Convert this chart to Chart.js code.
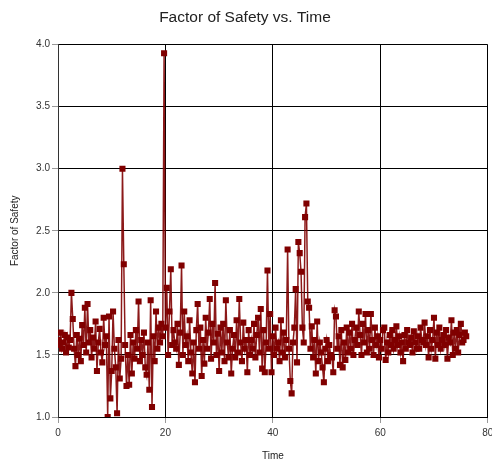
<!DOCTYPE html>
<html>
<head>
<meta charset="utf-8">
<script src="https://cdn.jsdelivr.net/npm/chart.js@4/dist/chart.umd.min.js"></script>
<style>
  html, body { margin: 0; padding: 0; background: #fff; }
  #wrap { width: 492px; height: 459px; }
</style>
</head>
<body>
<div id="wrap"><canvas id="fosChart"></canvas></div>
<script>
// samples every 0.25 time units, starting at t = 0
const startTime = 0;
const timeStep = 0.25;
const factorOfSafety = [
  1.62, 1.58, 1.68, 1.55, 1.60, 1.66, 1.52, 1.64,
  1.56, 1.62, 2.00, 1.79, 1.55, 1.41, 1.66, 1.50,
  1.63, 1.45, 1.74, 1.58, 1.88, 1.52, 1.91, 1.60,
  1.70, 1.48, 1.64, 1.55, 1.77, 1.37, 1.60, 1.71,
  1.52, 1.44, 1.80, 1.58, 1.65, 1.00, 1.81, 1.15,
  1.37, 1.85, 1.55, 1.40, 1.03, 1.62, 1.31, 1.47,
  3.00, 2.23, 1.58, 1.25, 1.50, 1.26, 1.66, 1.35,
  1.60, 1.47, 1.70, 1.55, 1.93, 1.45, 1.62, 1.50,
  1.68, 1.40, 1.34, 1.60, 1.22, 1.94, 1.08, 1.65,
  1.45, 1.85, 1.55, 1.72, 1.60, 1.75, 1.65, 3.93,
  1.72, 2.04, 1.50, 1.85, 2.19, 1.58, 1.70, 1.60,
  1.55, 1.75, 1.42, 1.68, 2.22, 1.50, 1.85, 1.58,
  1.65, 1.45, 1.78, 1.52, 1.35, 1.60, 1.28, 1.70,
  1.91, 1.55, 1.72, 1.33, 1.62, 1.43, 1.80, 1.55,
  1.68, 1.95, 1.47, 1.75, 1.60, 2.08, 1.50, 1.67,
  1.37, 1.72, 1.52, 1.75, 1.45, 1.94, 1.60, 1.48,
  1.70, 1.35, 1.55, 1.66, 1.48, 1.78, 1.52, 1.95,
  1.60, 1.45, 1.76, 1.55, 1.62, 1.36, 1.70, 1.50,
  1.62, 1.55, 1.75, 1.48, 1.66, 1.80, 1.52, 1.87,
  1.39, 1.70, 1.36, 1.60, 2.18, 1.55, 1.83, 1.36,
  1.65, 1.50, 1.72, 1.55, 1.60, 1.45, 1.78, 1.52,
  1.68, 1.48, 1.62, 2.35, 1.55, 1.29, 1.19, 1.60,
  1.72, 2.03, 1.44, 2.41, 2.32, 2.17, 1.72, 1.60,
  2.61, 2.72, 1.93, 1.88, 1.55, 1.73, 1.48, 1.62,
  1.35, 1.77, 1.45, 1.60, 1.52, 1.40, 1.28, 1.55,
  1.62, 1.45, 1.58, 1.50, 1.48, 1.36, 1.86, 1.81,
  1.55, 1.65, 1.42, 1.70, 1.40, 1.60, 1.46, 1.72,
  1.52, 1.68, 1.55, 1.75, 1.50, 1.62, 1.72, 1.58,
  1.85, 1.66, 1.50, 1.75, 1.60, 1.83, 1.52, 1.70,
  1.55, 1.83, 1.62, 1.50, 1.72, 1.58, 1.65, 1.48,
  1.62, 1.55, 1.70, 1.72, 1.46, 1.60, 1.52, 1.66,
  1.58, 1.70, 1.55, 1.62, 1.73, 1.58, 1.65, 1.52,
  1.60, 1.45, 1.66, 1.55, 1.70, 1.60, 1.58, 1.64,
  1.52, 1.69, 1.60, 1.55, 1.65, 1.55, 1.72, 1.62,
  1.60, 1.76, 1.58, 1.65, 1.48, 1.70, 1.55, 1.62,
  1.80, 1.47, 1.68, 1.58, 1.72, 1.55, 1.62, 1.66,
  1.58, 1.70, 1.47, 1.64, 1.60, 1.78, 1.50, 1.68,
  1.55, 1.70, 1.52, 1.66, 1.75, 1.60, 1.62, 1.68,
  1.65
];
const xTicks = [0, 20, 40, 60, 80];
const yTicks = [1.0, 1.5, 2.0, 2.5, 3.0, 3.5, 4.0];

const points = factorOfSafety.map((v, i) => ({ x: startTime + i * timeStep, y: v }));

Chart.defaults.font.family = "'Liberation Sans', Arial, sans-serif";
Chart.defaults.color = "#333";

let fosCtx = document.getElementById("fosChart").getContext("2d");
let fosChart = new Chart(fosCtx, {
    type: "scatter",
    data: {
        datasets: [
            {
                label: "Factor of Safety",
                data: points,
                showLine: true,
                borderColor: "rgba(128, 0, 0, 0.9)",
                borderWidth: 1.5,
                backgroundColor: "#800000",
                pointStyle: "rect",
                pointRadius: 4.3,
                pointBorderWidth: 0,
                pointHoverRadius: 4.3,
            },
        ],
    },
    options: {
        animation: false,
        responsive: true,
        maintainAspectRatio: false,
        layout: {
            padding: { left: 0, right: 2, top: 0, bottom: 0 },
        },
        plugins: {
            legend: { display: false },
            tooltip: { enabled: false },
            title: {
                display: true,
                text: "Factor of Safety vs. Time",
                color: "#222",
                font: { size: 15.5, weight: "normal" },
                padding: { top: 8, bottom: 18 },
            },
        },
        scales: {
            x: {
                type: "linear",
                min: 0,
                max: 80,
                afterBuildTicks: (scale) => {
                    scale.ticks = xTicks.map((v) => ({ value: v }));
                },
                afterFit: (scale) => {
                    scale.height = 42;
                    scale.paddingLeft = 0;
                    scale.paddingRight = 0;
                },
                ticks: {
                    font: { size: 10 },
                    color: "#333",
                    padding: 4,
                    maxRotation: 0,
                },
                grid: {
                    color: "#000",
                    lineWidth: 1,
                    tickLength: 6,
                    tickColor: "#999",
                },
                border: { color: "#000", width: 1 },
                title: {
                    display: true,
                    text: "Time",
                    font: { size: 10, lineHeight: 0.6 },
                    color: "#222",
                    padding: 0,
                },
            },
            y: {
                min: 1,
                max: 4,
                afterBuildTicks: (scale) => {
                    scale.ticks = yTicks.map((v) => ({ value: v }));
                },
                afterFit: (scale) => {
                    scale.width = 58;
                },
                ticks: {
                    font: { size: 10 },
                    color: "#333",
                    padding: 2,
                    callback: (v) => Number(v).toFixed(1),
                },
                grid: {
                    color: "#000",
                    lineWidth: 1,
                    tickLength: 6,
                    tickColor: "#999",
                },
                border: { color: "#333", width: 1 },
                title: {
                    display: true,
                    text: "Factor of Safety",
                    font: { size: 10 },
                    color: "#222",
                    padding: { top: 9, bottom: 0 },
                },
            },
        },
    },
});
</script>
</body>
</html>
